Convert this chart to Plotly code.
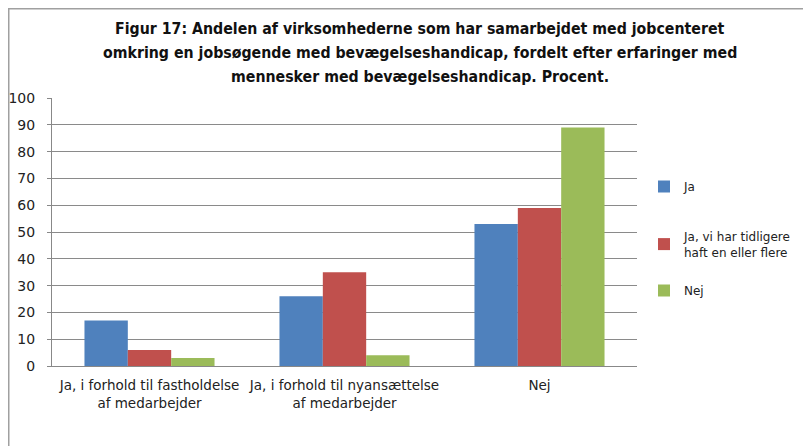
import plotly.graph_objects as go

categories = ["Ja, i forhold til fastholdelse<br>af medarbejder",
              "Ja, i forhold til nyansættelse<br>af medarbejder",
              "Nej"]
series_names = ["Ja", "Ja, vi har tidligere<br>haft en eller flere", "Nej"]
ja = [17, 26, 53]
ja_tidligere = [6, 35, 59]
nej = [3, 4, 89]
colors = ["#4F81BD", "#C0504D", "#9BBB59"]
yticks = list(range(0, 101, 10))
title_lines = ["Figur 17: Andelen af virksomhederne som har samarbejdet med jobcenteret",
               "omkring en jobsøgende med bevægelseshandicap, fordelt efter erfaringer med",
               "mennesker med bevægelseshandicap. Procent."]

# page has an 8px body margin; figure coordinates = page - 8
W, H = 811, 446
L, R, T, B = 44, 629, 90, 358

def px_to_paper_x(px):
    return (px - L) / (R - L)

def px_to_paper_y(py):
    return (B - py) / (B - T)

legend_names = ["legend", "legend2", "legend3"]
legend_tops = [164, 214, 268]
title_ys = [20, 45, 68]

fig = go.Figure()
for i, (name, vals) in enumerate(zip(series_names, [ja, ja_tidligere, nej])):
    fig.add_trace(go.Bar(x=categories, y=vals, name=name, marker_color=colors[i],
                         marker_line_width=0, legend=legend_names[i]))

fig.add_shape(type="rect", xref="paper", yref="paper",
              x0=px_to_paper_x(0.75), x1=px_to_paper_x(830),
              y0=px_to_paper_y(470), y1=px_to_paper_y(0.75),
              line=dict(color="#a0a0a0", width=1.5), fillcolor="rgba(0,0,0,0)", layer="below")

for line, ty in zip(title_lines, title_ys):
    fig.add_annotation(text="<b>" + line + "</b>", xref="paper", yref="paper",
                       x=px_to_paper_x(412), y=px_to_paper_y(ty),
                       xanchor="center", yanchor="middle", showarrow=False,
                       font=dict(family="DejaVu Sans Condensed, DejaVu Sans", size=15.75,
                                 color="#111"))

legend_common = dict(xanchor="left", yanchor="top",
                     font=dict(family="DejaVu Sans", size=12, color="#222"),
                     itemwidth=30, bgcolor="rgba(0,0,0,0)")

fig.update_layout(
    width=W, height=H,
    margin=dict(l=L, r=W - R, t=T, b=H - B, pad=0, autoexpand=False),
    paper_bgcolor="white", plot_bgcolor="white",
    barmode="group", bargap=0.333, bargroupgap=0,
    font=dict(family="DejaVu Sans", size=13, color="#222"),
    legend=dict(x=px_to_paper_x(636), y=px_to_paper_y(legend_tops[0]), **legend_common),
    legend2=dict(x=px_to_paper_x(636), y=px_to_paper_y(legend_tops[1]), **legend_common),
    legend3=dict(x=px_to_paper_x(636), y=px_to_paper_y(legend_tops[2]), **legend_common),
    showlegend=True,
    xaxis=dict(showline=True, linecolor="#888", linewidth=1, ticks="",
               tickfont=dict(family="DejaVu Sans", size=13.5), showgrid=False,
               automargin=False, ticklabelstandoff=7),
    yaxis=dict(range=[0, 100], tickvals=yticks, showgrid=True, gridcolor="#8a8a8a",
               gridwidth=1, showline=True, linecolor="#888", linewidth=1,
               ticks="outside", ticklen=4, tickcolor="#888",
               tickfont=dict(family="DejaVu Sans", size=14), zeroline=False,
               automargin=False, ticklabelstandoff=9),
)

fig.write_html("out.html")
